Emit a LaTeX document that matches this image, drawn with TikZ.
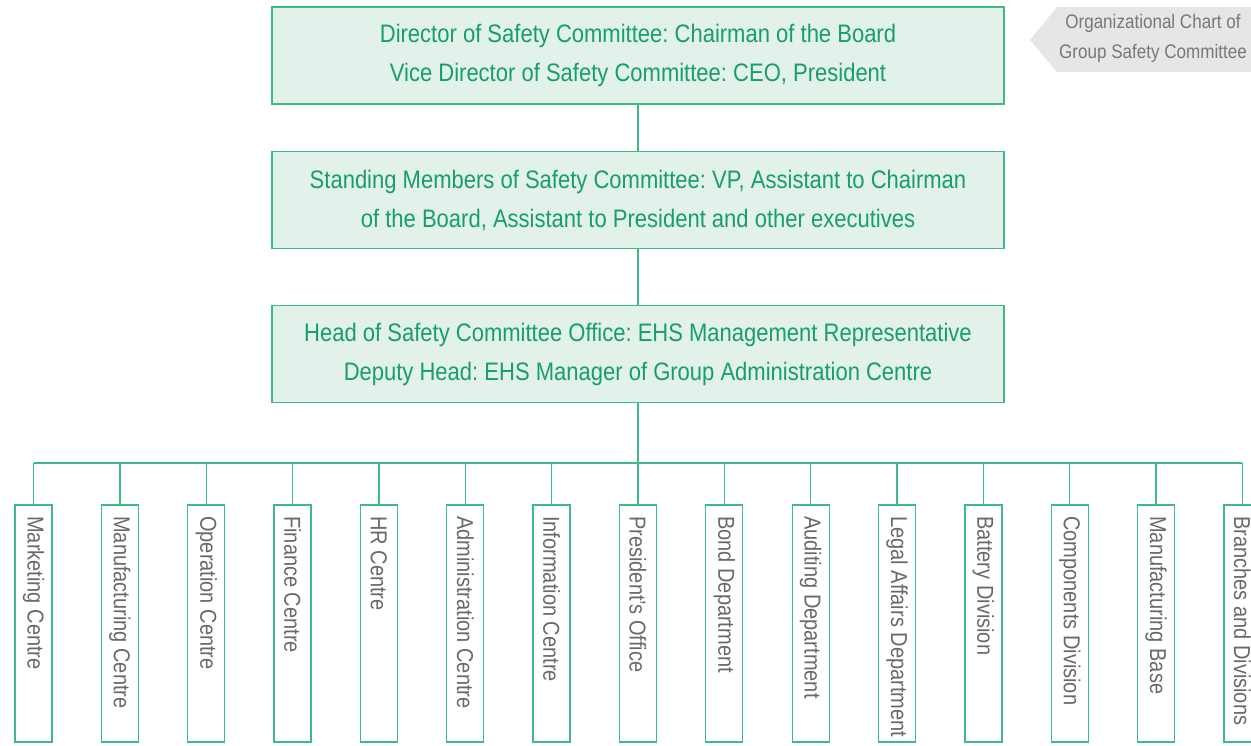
\documentclass[tikz,border=0pt]{standalone}
\usepackage{fontspec}
\setmainfont[FakeStretch=0.87]{Liberation Sans}
\frenchspacing
\definecolor{gtext}{RGB}{22,160,102}
\definecolor{gline}{RGB}{62,186,132}
\definecolor{gfill}{RGB}{226,241,234}
\definecolor{greytext}{RGB}{105,105,105}
\definecolor{tagfill}{RGB}{230,230,230}
\definecolor{tagtext}{RGB}{120,120,120}
\tikzset{
  topbox/.style={draw=gline, line width=1.3pt, fill=gfill, minimum width=732, minimum height=97,
    text=gtext, align=center, font=\fontsize{25.3}{39}\selectfont, inner sep=0pt},
  vbox/.style={draw=gline, line width=1.3pt, fill=white, minimum width=37, minimum height=237, inner sep=0pt},
  vtext/.style={rotate=-90, anchor=west, text=greytext, font=\fontsize{23}{26}\selectfont, inner sep=0pt},
  conn/.style={draw=gline, line width=1.3pt},
}
\begin{document}
\begin{tikzpicture}[x=1pt,y=-1pt]
\useasboundingbox (0,0) rectangle (1251,745);
% tag
\fill[tagfill] (1030,40) -- (1057,7) -- (1251,7) -- (1251,72) -- (1057,72) -- cycle;
\node[text=tagtext, align=center, font=\fontsize{19.6}{30}\selectfont, inner sep=0pt] (tag) at (1153,38)
  {Organizational Chart of\\Group Safety Committee};
% top boxes
\node[topbox] (b1) at (638,55.5) {Director of Safety Committee: Chairman of the Board\\Vice Director of Safety Committee: CEO, President};
\node[topbox] (b2) at (638,200) {Standing Members of Safety Committee: VP, Assistant to Chairman\\of the Board, Assistant to President and other executives};
\node[topbox] (b3) at (638,354) {Head of Safety Committee Office: EHS Management Representative\\Deputy Head: EHS Manager of Group Administration Centre};
\draw[conn] (b1.south) -- (b2.north);
\draw[conn] (b2.south) -- (b3.north);
\coordinate (bus) at (638,463);
\draw[conn] (b3.south) -- (bus);
% vertical boxes
\foreach \t [count=\i] in {Marketing Centre, Manufacturing Centre, Operation Centre, Finance Centre, HR Centre, Administration Centre, Information Centre, President's Office, Bond Department, Auditing Department, Legal Affairs Department, Battery Division, Components Division, Manufacturing Base, Branches and Divisions}{
  \pgfmathsetmacro\cx{33.5+(\i-1)*86.35}
  \node[vbox] (v\i) at (\cx,623.5) {};
  \node[vtext] (t\i) at (\cx,516) {\t};
  \draw[conn] (v\i.north) -- (v\i.north |- bus);
}
\draw[conn] (v1.north |- bus) -- (v15.north |- bus);
\end{tikzpicture}
\end{document}
